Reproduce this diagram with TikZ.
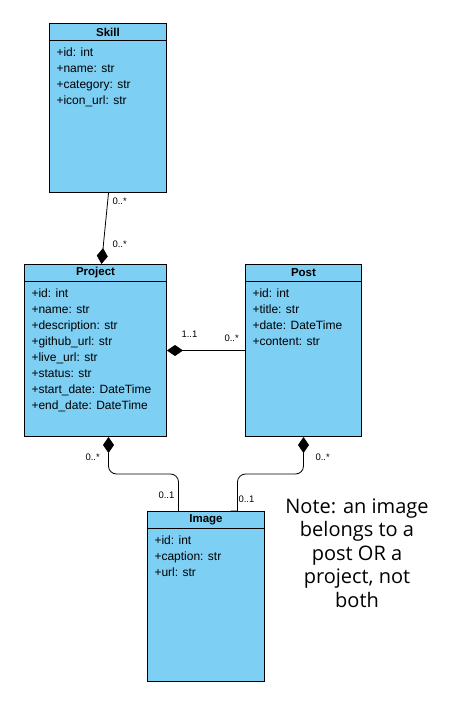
\documentclass[tikz,border=0pt]{standalone}
\usepackage{fontspec}
\setmainfont{Liberation Sans}
\newfontfamily\notefont{Open Sans}
\usetikzlibrary{arrows.meta}
\definecolor{classblue}{RGB}{126,207,244}

\begin{document}
\begin{tikzpicture}[x=1pt, y=-1pt, line width=1pt,
    class/.style={draw, fill=classblue, inner sep=0pt, anchor=north west},
    head/.style={draw, inner sep=0pt, minimum height=17pt, anchor=north,
      font=\fontsize{11.5}{12}\selectfont\bfseries},
    attrs/.style={inner sep=0pt, anchor=north west, align=left,
      font=\fontsize{12}{16}\selectfont},
    mult/.style={inner sep=0pt, anchor=west, font=\fontsize{9.5}{10}\selectfont},
    comp/.style={{Diamond[length=16pt,width=11pt]}-, line width=0.8pt}]
  \fill[white] (0,0) rectangle (453,704);
  \useasboundingbox (0,0) rectangle (453,704);
  % classes
  \node[class, minimum width=117pt, minimum height=169pt] (skill) at (49,23) {};
  \node[head, minimum width=117pt] (skill-head) at (skill.north) {Skill};
  \node[attrs] (skill-attrs) at ([shift={(7pt,-6.5pt)}]skill-head.south west)
    {+id: int\\+name: str\\+category: str\\+icon\_url: str};
  \node[class, minimum width=142pt, minimum height=172pt] (project) at (24,264) {};
  \node[head, minimum width=142pt] (project-head) at (project.north) {Project};
  \node[attrs] (project-attrs) at ([shift={(7pt,-6.5pt)}]project-head.south west)
    {+id: int\\+name: str\\+description: str\\+github\_url: str\\+live\_url: str\\+status: str\\+start\_date: DateTime\\+end\_date: DateTime};
  \node[class, minimum width=116pt, minimum height=172pt] (post) at (245,264) {};
  \node[head, minimum width=116pt] (post-head) at (post.north) {Post};
  \node[attrs] (post-attrs) at ([shift={(7pt,-6.5pt)}]post-head.south west)
    {+id: int\\+title: str\\+date: DateTime\\+content: str};
  \node[class, minimum width=117pt, minimum height=170pt] (image) at (147,511) {};
  \node[head, minimum width=117pt] (image-head) at (image.north) {Image};
  \node[attrs] (image-attrs) at ([shift={(7pt,-6.5pt)}]image-head.south west)
    {+id: int\\+caption: str\\+url: str};
  % compositions
  \draw[comp] ([xshift=6pt]project.north) -- ([xshift=0.5pt]skill.south);
  \draw[comp] (project.east) -- (post.west);
  \draw[comp, rounded corners=8pt] ([xshift=13pt]project.south) -- ++(0,37)
    -| ([xshift=-27.5pt]image.north);
  \draw[comp] (post.south) [rounded corners=8pt] -- ++(0,37)
    -| ([xshift=31.5pt,yshift=8pt]image.north) [sharp corners]
    .. controls ([xshift=31.5pt]image.north) .. ([xshift=24.5pt]image.north);
  % multiplicities
  \node[mult] (m-skill-proj) at (112,201) {0..*};
  \node[mult] (m-proj-skill) at (112,244) {0..*};
  \node[mult] (m-proj-post) at (181,334) {1..1};
  \node[mult] (m-post-proj) at (224,338) {0..*};
  \node[mult] (m-proj-img) at (85,457) {0..*};
  \node[mult] (m-img-proj) at (158,495) {0..1};
  \node[mult] (m-img-post) at (238,499) {0..1};
  \node[mult] (m-post-img) at (315,457) {0..*};
  % note
  \node[font=\notefont\fontsize{20}{23.4}\selectfont, align=center, inner sep=0pt]
    (note) at (357,553) {Note: an image\\belongs to a\\post OR a\\project, not\\both};
\end{tikzpicture}
\end{document}
